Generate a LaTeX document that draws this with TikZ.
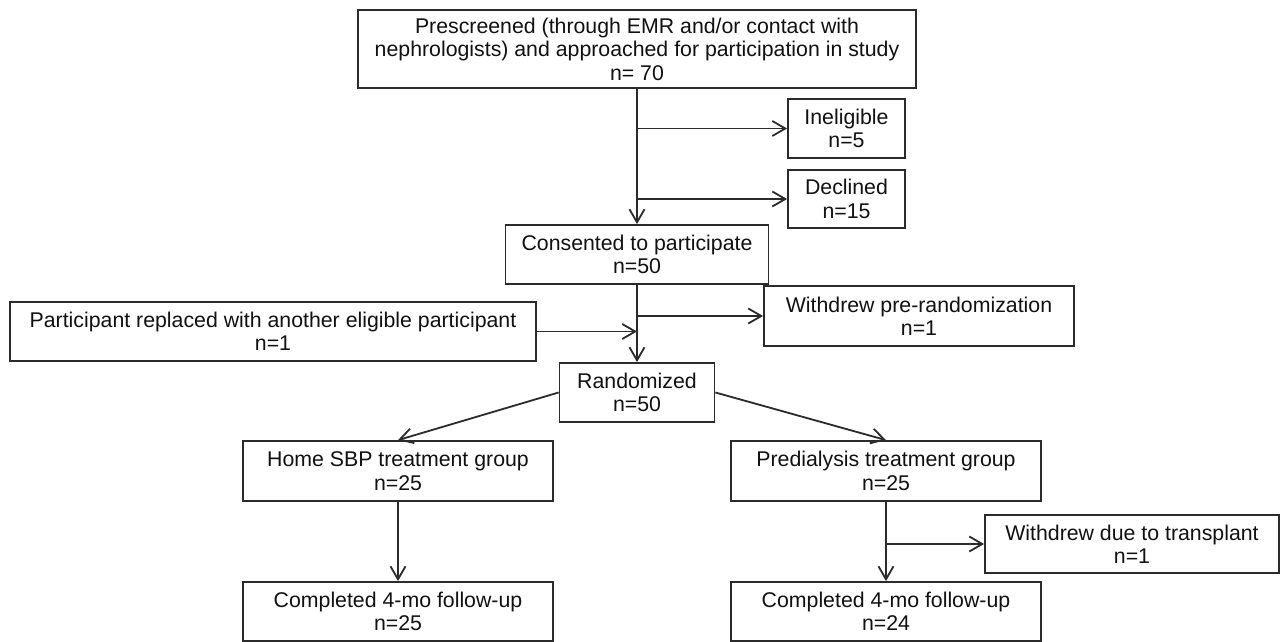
\documentclass[tikz,border=0pt]{standalone}
\usepackage{fontspec}
\setmainfont{Liberation Sans}
\usetikzlibrary{positioning,arrows.meta}
\definecolor{cfLine}{HTML}{2B2B2B}
\definecolor{cfText}{HTML}{111111}
\definecolor{cfFill}{HTML}{FFFFFF}

\begin{document}
\begin{tikzpicture}[
    x=0.5pt, y=-0.5pt,
    node distance=0.8cm,
    box/.style={draw=cfLine, line width=0.9pt, fill=cfFill, text=cfText, inner sep=1pt, align=center, font=\fontsize{10.65}{11.7}\selectfont},
    arrow/.style={-{Straight Barb[length=6.5pt, width=7.5pt]}, line width=0.9pt, cfLine}
]
    \useasboundingbox (0,0) rectangle (1286,642);

    \node[box, minimum width=279pt, minimum height=39pt] (screen) at (637,49) {Prescreened (through EMR and/or contact with\\nephrologists) and approached for participation in study\\n= 70};
    \node[box, minimum width=58.5pt, minimum height=29.5pt] (inelig) at (846.5,128.5) {Ineligible\\n=5};
    \node[box, minimum width=58.5pt, minimum height=29pt] (declined) at (846.5,199) {Declined\\n=15};
    \node[box, minimum width=131.5pt, minimum height=29.5pt] (consent) at (637,254.5) {Consented to participate\\n=50};
    \node[box, minimum width=155pt, minimum height=30pt] (prerand) at (919,316) {Withdrew pre-randomization\\n=1};
    \node[box, minimum width=263pt, minimum height=29.5pt] (replaced) at (273,331.5) {Participant replaced with another eligible participant\\n=1};
    \node[box, minimum width=77.5pt, minimum height=29.5pt] (random) at (637,392.5) {Randomized\\n=50};
    \node[box, minimum width=155pt, minimum height=30pt] (home) at (398,471) {Home SBP treatment group\\n=25};
    \node[box, minimum width=155pt, minimum height=30pt] (predial) at (886,471) {Predialysis treatment group\\n=25};
    \node[box, minimum width=147pt, minimum height=29pt] (transpl) at (1132,544) {Withdrew due to transplant\\n=1};
    \node[box, minimum width=155pt, minimum height=29.5pt] (homedone) at (398,611.5) {Completed 4-mo follow-up\\n=25};
    \node[box, minimum width=155pt, minimum height=29.5pt] (predone) at (886,611.5) {Completed 4-mo follow-up\\n=24};

    \draw[arrow] (screen.south) -- (consent.north);
    \draw[arrow] (screen.south |- inelig) -- (inelig);
    \draw[arrow] (screen.south |- declined) -- (declined);
    \draw[arrow] (consent.south) -- (random.north);
    \draw[arrow] (consent.south |- prerand) -- (prerand);
    \draw[arrow] (replaced.east) -- (consent.south |- replaced.east);
    \draw[arrow] (random.west) -- (home.north);
    \draw[arrow] (random.east) -- (predial.north);
    \draw[arrow] (home) -- (homedone);
    \draw[arrow] (predial) -- (predone);
    \draw[arrow] (predial.south |- transpl) -- (transpl);
\end{tikzpicture}
\end{document}
